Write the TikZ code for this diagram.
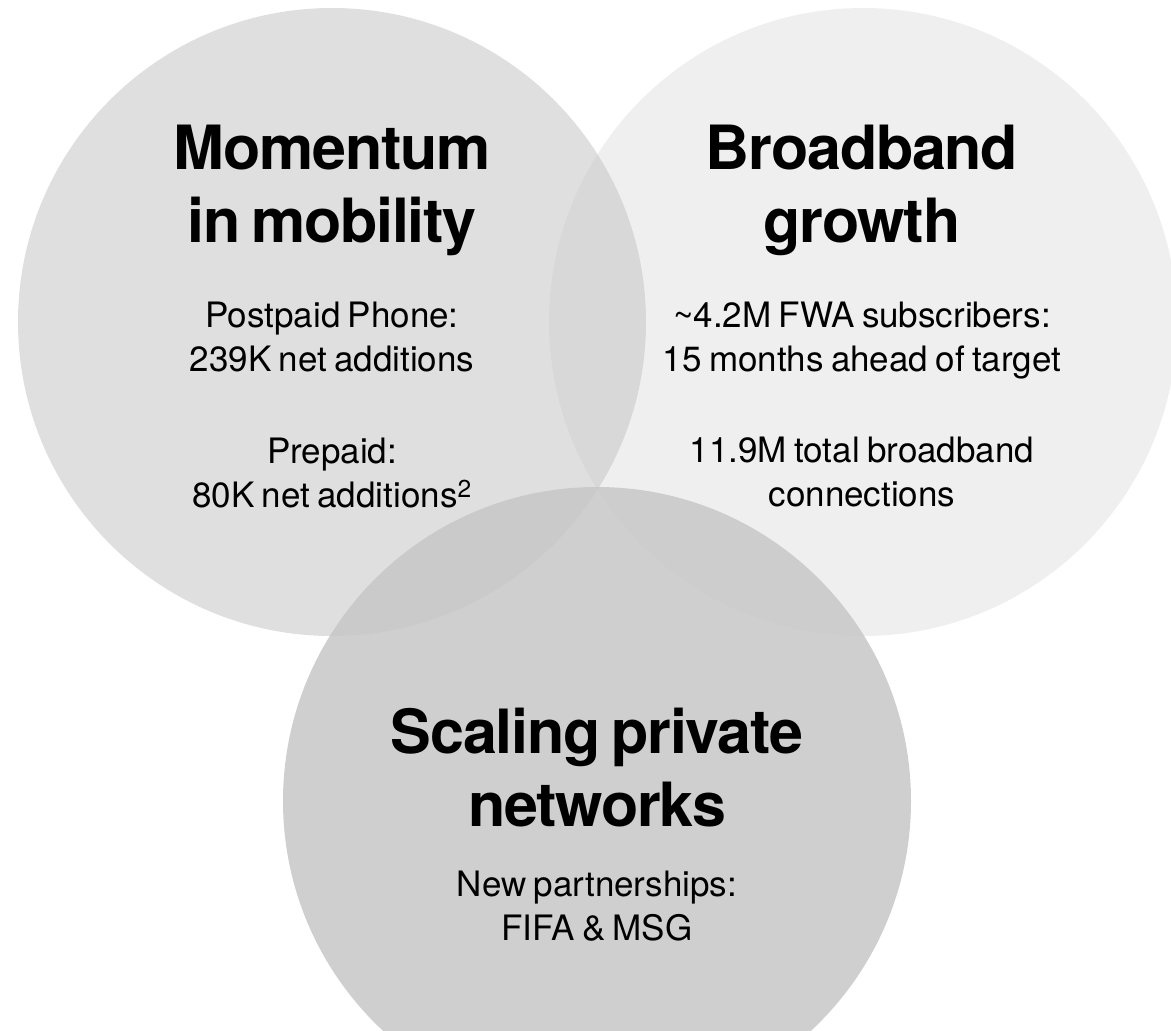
\documentclass[tikz,border=0pt]{standalone}
\usepackage{fontspec}
\setmainfont{TeX Gyre Heros}
\newfontfamily\headfont[LetterSpace=-2.0,WordSpace=0.7]{TeX Gyre Heros}
\newfontfamily\bodyfont[WordSpace=0.75]{TeX Gyre Heros}
\usepackage{tikz}
\definecolor{vennfill}{RGB}{198,198,198}
\tikzset{
  venn/.style={fill=vennfill, fill opacity=#1},
  headline/.style={align=center, anchor=base, inner sep=0pt,
                   font=\headfont\bfseries\fontsize{61}{73}\selectfont},
  detail/.style={align=center, anchor=base, inner sep=0pt,
                 font=\bodyfont\fontsize{35}{44}\selectfont},
}

\begin{document}
\begin{tikzpicture}[x=1pt, y=-1pt]
  \useasboundingbox (0,0) rectangle (1171,1031);
  % Circles, cut at the page edge
  \begin{scope}
    \clip (0,0) rectangle (1171,1031);
    \fill[venn=0.56] (332,322) circle[radius=314pt];
    \fill[venn=0.28] (863,322) circle[radius=314pt];
    \fill[venn=0.84] (597,801) circle[radius=314pt];
  \end{scope}
  % Mobility (nodes sit on the baseline of their last line)
  \node[headline] (mobilityhead) at (332,242) {Momentum\\in mobility};
  \node[detail] (postpaid) at (332,371) {Postpaid Phone:\\239K net additions};
  \node[detail] (prepaid) at (332,507) {Prepaid:\\80K net additions\textsuperscript{2}};
  % Broadband
  \node[headline] (broadbandhead) at (862,242) {Broadband\\growth};
  \node[detail] (fwa) at (862,371) {\textasciitilde4.2M FWA subscribers:\\15 months ahead of target};
  \node[detail] (totalbb) at (862,506) {11.9M total broadband\\connections};
  % Private networks
  \node[headline] (privatehead) at (597,826) {Scaling private\\networks};
  \node[detail] (partners) at (597,940) {New partnerships:\\FIFA \& MSG};
\end{tikzpicture}
\end{document}
